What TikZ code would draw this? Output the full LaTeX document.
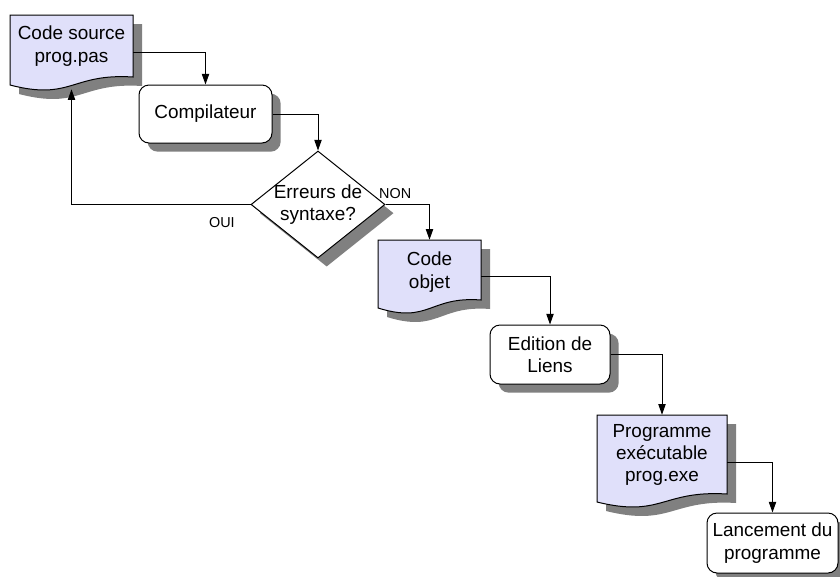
\documentclass[tikz,border=0pt]{standalone}
\usepackage{fontspec}
\setmainfont{Liberation Sans}
\usetikzlibrary{arrows.meta,shapes.geometric,shadows}
\definecolor{docfill}{RGB}{224,224,250}
\definecolor{shade}{RGB}{128,128,128}
% Outline of a document symbol: left, top, right, bottom (at the left edge)
\newcommand\docoutline[4]{(#1,#2) -- (#3,#2) -- (#3,{#4-8})
  .. controls ({#1+0.5*(#3-#1)},{#4-12}) and ({#1+0.5*(#3-#1)},{#4+16}) .. (#1,#4) -- cycle}
\tikzset{
  every node/.style={font=\fontsize{14.2}{16.8}\selectfont, align=center, inner sep=0pt},
  boxshadow/.style={copy shadow={shadow xshift=6.5pt, shadow yshift=-6.5pt, fill=shade, draw=none}},
  procbox/.style={draw=black, line width=0.75pt, fill=white, rounded corners=7.5pt, boxshadow},
  decision/.style={diamond, draw=black, line width=0.75pt, fill=white, boxshadow},
  docarea/.style={rectangle, draw=none},
  docline/.style={draw=black, line width=0.75pt, fill=docfill},
  docshadow/.style={fill=shade},
  arr/.style={draw=black, line width=0.75pt, -{Triangle[length=8pt,width=5.5pt]}},
  lbl/.style={font=\fontsize{10.8}{13}\selectfont}
}
\begin{document}
\begin{tikzpicture}[x=0.75pt, y=-0.75pt]
\useasboundingbox (0,0) rectangle (840,576);
\clip (0,0) rectangle (840,576);

% shadows of the document symbols
\begin{scope}[shift={(9,9)}]
  \fill[docshadow] \docoutline{10}{15}{133}{85};
  \fill[docshadow] \docoutline{378}{240}{481}{308};
  \fill[docshadow] \docoutline{597}{415}{727}{502};
\end{scope}
% bodies of the document symbols
\path[docline] \docoutline{10}{15}{133}{85};
\path[docline] \docoutline{378}{240}{481}{308};
\path[docline] \docoutline{597}{415}{727}{502};

% anchor areas of the document symbols
\node[docarea, minimum width=123*0.75pt, minimum height=74*0.75pt] (src) at (71.5,52) {};
\node[docarea, minimum width=103*0.75pt, minimum height=72*0.75pt] (obj) at (429.5,276) {};
\node[docarea, minimum width=130*0.75pt, minimum height=94*0.75pt] (exe) at (662,462) {};

% texts of the document symbols
\node (srctxt) at (71.5,46) {Code source\\prog.pas};
\node (objtxt) at (429.5,272) {Code\\objet};
\node (exetxt) at (662,455) {Programme\\exécutable\\prog.exe};

% process boxes and decision
\node[procbox, minimum width=133*0.75pt, minimum height=58*0.75pt] (comp) at (205.5,114) {Compilateur};
\node[decision, minimum width=134*0.75pt, minimum height=107*0.75pt] (dia) at (318,204.5) {};
\node (diatxt) at (318,204.5) {Erreurs de\\syntaxe?};
\node[procbox, minimum width=120*0.75pt, minimum height=59*0.75pt] (link) at (550,354.5) {Edition de\\Liens};
\node[procbox, minimum width=131*0.75pt, minimum height=60*0.75pt] (run) at (772.5,543) {Lancement du\\programme};

% connectors
\draw[arr] (src.east) -| (comp.north);
\draw[arr] (comp.east) -| (dia.north);
\draw[arr] (dia.east) -| node[lbl, pos=0.11, above=4.3pt] {NON} (obj.north);
\draw[arr] (dia.west) -| node[lbl, pos=0.08, below=9.6pt] {OUI} (src.south);
\draw[arr] (obj.east) -| (link.north);
\draw[arr] (link.east) -| (exe.north);
\draw[arr] (exe.east) -| (run.north);
\end{tikzpicture}
\end{document}
